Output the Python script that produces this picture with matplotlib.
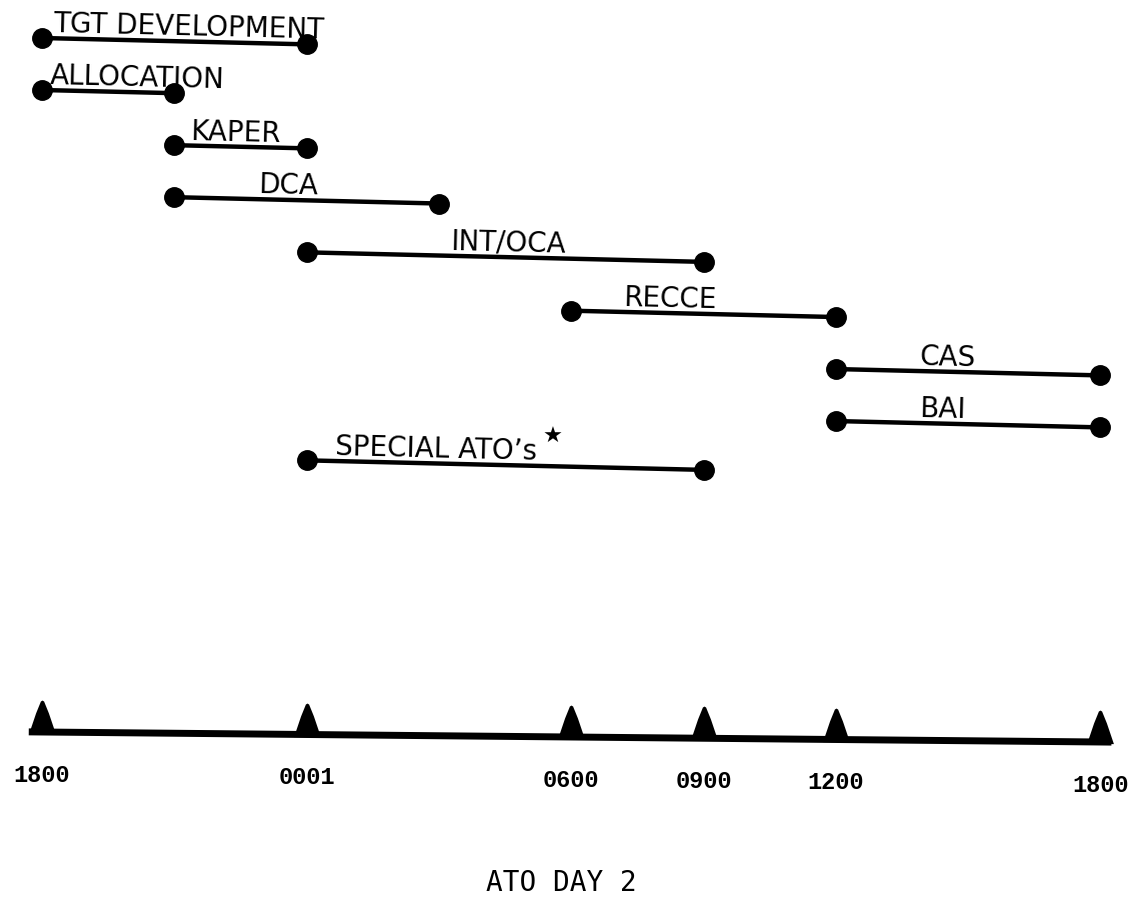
import numpy as np
import matplotlib.pyplot as plt
from matplotlib.path import Path

# mission windows, hours after 1800 on ATO day 1
tasks = ["TGT DEVELOPMENT", "ALLOCATION", "KAPER", "DCA", "INT/OCA",
         "RECCE", "CAS", "BAI", "SPECIAL ATO\u2019s"]
start_hr = [0, 0, 3, 3, 6, 12, 18, 18, 6]
end_hr = [6, 3, 6, 9, 15, 18, 24, 24, 15]

tick_hr = [0, 6, 12, 15, 18, 24]
tick_lbl = ["1800", "0001", "0600", "0900", "1200", "1800"]

# layout only: where each label starts, in hours after the bar start
label_lead = [0.25, 0.18, 0.36, 1.9, 3.25, 1.17, 1.9, 1.9, 0.64]

W, H = 1131, 900
px_hr = 44.1          # pixels per hour
x0 = 42               # pixel of hour 0
row0, row_gap = 38, 52
px2pt = 0.72

fig = plt.figure(figsize=(W / 100, H / 100), dpi=100)
ax = fig.add_axes([0, 0, 1, 1])
ax.set_xlim(-x0 / px_hr, (W - x0) / px_hr)
ax.set_ylim((H - row0) / row_gap, -row0 / row_gap)
ax.axis('off')

# the scanned page is a bit tilted
skew = 0.024 * px_hr / row_gap          # rows per hour
tilt_deg = -np.degrees(np.arctan(0.024))

lab_font = ['DejaVu Sans']
for i, name in enumerate(tasks):
    xs = np.array([start_hr[i], end_hr[i]])
    ys = i + skew * xs
    ax.plot(xs, ys, '-', color='black', lw=3.2, solid_capstyle='butt')
    ax.plot(xs, ys, 'o', color='black', ms=14)
    lx = start_hr[i] + label_lead[i]
    t = ax.annotate(name, xy=(lx, i + skew * lx), xytext=(0, 6 * px2pt),
                    textcoords='offset points', ha='left', va='baseline',
                    rotation=tilt_deg, rotation_mode='anchor',
                    fontsize=20, family=lab_font, color='black')
    if name.startswith("SPECIAL"):
        ax.annotate("\u2605", xy=(1, 1), xycoords=t, xytext=(4, -3),
                    textcoords='offset points', ha='left', va='center',
                    fontsize=16, family='DejaVu Sans', color='black')

# time axis
axis_y0 = (732 - row0) / row_gap
axis_slope = 10 / 24 / row_gap
ax_x = np.array([-0.3, 24.25])
ax.plot(ax_x, axis_y0 + axis_slope * ax_x, color='black', lw=5,
        solid_capstyle='butt')

peak = Path([(-0.42, -0.05), (-0.2, 0.6), (-0.05, 0.97), (0, 1),
             (0.05, 0.97), (0.2, 0.6), (0.42, -0.05), (-0.42, -0.05)],
            closed=True)
th = np.array(tick_hr)
ax.plot(th, axis_y0 + axis_slope * th, linestyle='none', marker=peak,
        ms=46, color='black', mew=0)

for h, lbl in zip(tick_hr, tick_lbl):
    ax.annotate(lbl, xy=(h, axis_y0 + axis_slope * h), xytext=(0, -43 * px2pt),
                textcoords='offset points', ha='center', va='center',
                fontsize=17, family='Liberation Mono', fontweight='bold',
                color='black')

fig.text(561 / W, 1 - 883 / H, "ATO DAY 2", ha='center', va='center',
         fontsize=20, family='DejaVu Sans Mono', color='black')

fig.savefig("out.png", dpi=100, facecolor='white')
